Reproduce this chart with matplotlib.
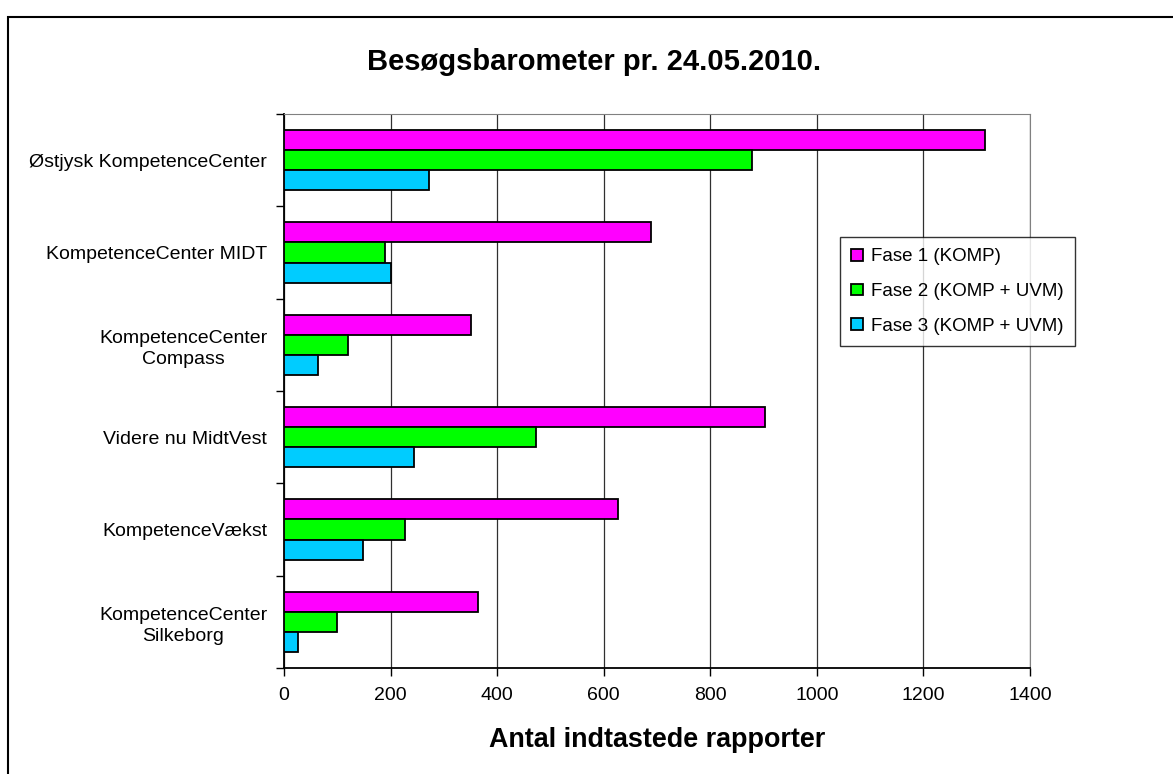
import numpy as np
import matplotlib
matplotlib.use("Agg")
import matplotlib.pyplot as plt
from matplotlib.patches import Rectangle

plt.rcParams['font.family'] = ['Liberation Sans', 'DejaVu Sans']

# ── Data ─────────────────────────────────────────────────────────────────────
categories = ["Østjysk KompetenceCenter", "KompetenceCenter MIDT",
              "KompetenceCenter\nCompass", "Videre nu MidtVest",
              "KompetenceVækst", "KompetenceCenter\nSilkeborg"]
fase1 = [1315, 688, 351, 903, 626, 365]
fase2 = [878, 189, 120, 473, 227, 100]
fase3 = [272, 200, 64, 244, 148, 27]
series_names = ["Fase 1 (KOMP)", "Fase 2 (KOMP + UVM)", "Fase 3 (KOMP + UVM)"]
colors = ["#FF00FF", "#00FF00", "#00CCFF"]
xticks = [0, 200, 400, 600, 800, 1000, 1200, 1400]

W, H = 1173, 774

# ── Figure ───────────────────────────────────────────────────────────────────
fig = plt.figure(figsize=(W / 100, H / 100), dpi=100)
fig.patches.append(Rectangle((7.5 / W, -0.1), 1.2, 1 - 17 / H + 0.1,
                             transform=fig.transFigure, fill=False,
                             edgecolor='black', linewidth=1.5))

# plot area: x 284..1030, y 114..668 (pixels)
ax = fig.add_axes([284 / W, 1 - 668 / H, 746 / W, 554 / H])

y = np.arange(len(categories))
h = 0.217
for k, (vals, name, col) in enumerate(zip([fase1, fase2, fase3], series_names, colors)):
    ax.barh(y + (k - 1) * h, vals, height=h, color=col, edgecolor='black',
            linewidth=1.3, label=name, zorder=3)

ax.set_xlim(0, 1400)
ax.set_ylim(len(categories) - 0.5, -0.5)
ax.set_xticks(xticks)
ax.set_xticklabels([str(t) for t in xticks], fontsize=14)
ax.set_yticks(y)
ax.set_yticklabels(categories, fontsize=14)
for lbl in ax.get_yticklabels():
    lbl.set_multialignment('center')
    lbl.set_linespacing(1.3)
ax.set_yticks(np.arange(len(categories) + 1) - 0.5, minor=True)
ax.tick_params(axis='y', which='major', length=0, pad=12)
ax.tick_params(axis='y', which='minor', length=6, direction='out', width=1)
ax.tick_params(axis='x', length=6, direction='out', pad=8, width=1)

ax.grid(axis='x', color='#303030', linewidth=0.9, zorder=0)
for s in ['top', 'right']:
    ax.spines[s].set_color('#808080')
for s in ['left', 'bottom']:
    ax.spines[s].set_color('black')
    ax.spines[s].set_linewidth(1.3)

fig.text(657 / W, 1 - 740 / H, "Antal indtastede rapporter",
         ha='center', va='center', fontsize=19.4, fontweight='bold')
fig.text(594 / W, 1 - 62 / H, "Besøgsbarometer pr. 24.05.2010.",
         ha='center', va='center', fontsize=21, fontweight='bold')

leg = fig.legend(loc='upper left', bbox_to_anchor=(840 / W, 1 - 237 / H),
                 fontsize=13.5, frameon=True, fancybox=False, edgecolor='black',
                 handlelength=0.6, handleheight=0.6, handletextpad=0.45,
                 labelspacing=0.95, borderpad=0.6, borderaxespad=0)
leg.get_frame().set_linewidth(1)

fig.savefig("out.png", dpi=100)
